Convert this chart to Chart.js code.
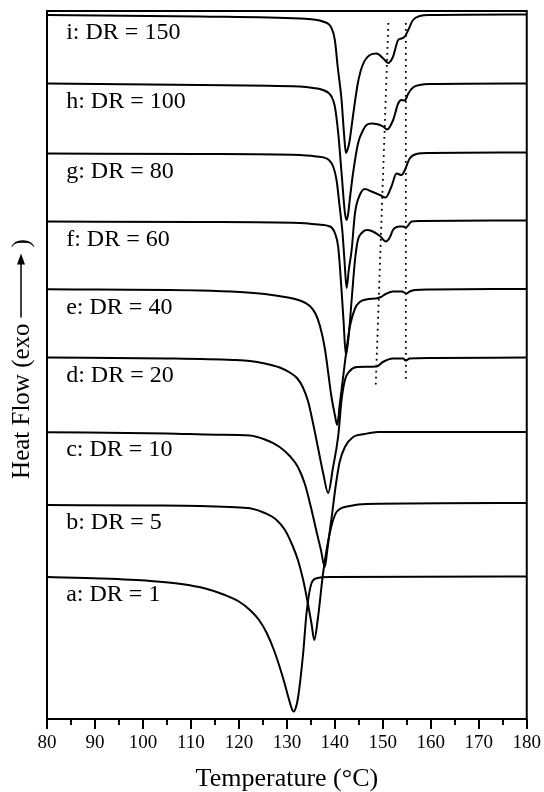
<!DOCTYPE html>
<html>
<head>
<meta charset="utf-8">
<title>DSC curves</title>
<script src="https://cdn.jsdelivr.net/npm/chart.js@4.4.1/dist/chart.umd.min.js"></script>
<style>
  html, body { margin: 0; padding: 0; background: #fff; }
  #wrap { width: 544px; height: 792px; }
</style>
</head>
<body>
<div id="wrap"><canvas id="chart"></canvas></div>
<script>
// temperature (C) / heat flow (a.u., curves stacked as in the figure)
var curveA = [[80,14.2],[91,14.05],[101.5,13.8],[108,13.5],[113,13.05],[117.1,12.4],[120,11.75],[122.3,10.9],[124.2,9.9],[125.8,8.6],[127.3,6.9],[128.5,5.2],[129.5,3.6],[130.3,2.2],[130.9,1.2],[131.4,0.75],[131.85,1.1],[132.35,2.2],[133.4,6.6],[134.1,10.6],[135.15,13.6],[136.2,14.07],[139,14.2],[180,14.25]];
var curveB = [[80,21.4],[101.5,21.35],[111.9,21.3],[118.1,21.2],[122.3,21.07],[125.4,20.6],[127.85,19.9],[129.6,18.9],[131.3,17.2],[132.3,15.9],[133.4,13.9],[134.4,11.5],[135.15,9.5],[135.7,7.9],[136.5,10.2],[137.55,14.6],[138.95,18.6],[140.35,20.7],[143.1,21.3],[146.6,21.5],[180,21.6]];
var curveC = [[80,28.68],[105,28.55],[115.3,28.42],[122.3,28.35],[125.4,27.95],[128.5,27.2],[130.6,26.3],[132.3,25.2],[133.75,23.5],[135,21.2],[136.25,18.6],[137.1,16.9],[137.9,15.2],[138.5,17.2],[139.4,20.4],[140.2,23.4],[141,25.7],[142.1,27.2],[143.8,28.2],[146.2,28.5],[149,28.7],[180,28.7]];
var curveD = [[80,36.15],[105,36.05],[118.75,35.9],[122.3,35.8],[125.4,35.55],[128.5,35.15],[130.6,34.65],[132.1,34.1],[133.3,33.2],[134.4,31.8],[135.4,29.7],[136.5,27.1],[137.6,24.5],[138.6,22.6],[139.6,25.1],[140.7,28.3],[141.4,31.9],[142.1,33.9],[143.1,34.8],[144.6,35.2],[148.75,35.25],[150,35.7],[152.1,36.05],[154.2,36.05],[154.8,35.85],[155.6,36.05],[159.8,36.1],[180,36.15]];
var curveE = [[80,42.97],[111.9,42.85],[120.2,42.7],[125.4,42.5],[129.6,42.2],[132.7,41.85],[134.8,41.3],[136,40.5],[136.9,39.3],[137.9,37.1],[139.3,32.2],[140,30.4],[140.5,29.4],[141,31.4],[141.9,34.9],[142.7,37.9],[143.1,39.2],[144.2,41.05],[145.2,41.7],[146.5,41.95],[149,42.1],[149.6,42.2],[150.6,42.5],[152.1,42.75],[154,42.75],[154.9,42.55],[155.6,42.75],[156.7,42.9],[159.8,42.95],[180,43]];
var curveF = [[80,49.75],[111.9,49.7],[132.7,49.6],[136.5,49.45],[139,49.25],[140,48.6],[140.7,47.2],[141.25,43.9],[141.8,39.9],[142.3,36.4],[142.9,38.4],[143.5,41.9],[144.2,45.9],[144.8,47.9],[145.6,48.6],[146.6,48.9],[147.7,48.8],[149.4,48.3],[150.6,47.75],[151.5,48.2],[152.1,48.9],[153.5,49.25],[154.2,49.25],[154.8,49.15],[156,49.75],[157.7,49.8],[180,49.85]];
var curveG = [[80,56.55],[111.9,56.5],[132.7,56.4],[136.2,56.25],[138.3,56.05],[139.65,55.25],[140.35,53.9],[141,51.25],[141.6,48.6],[142,45.9],[142.45,43.1],[142.9,44.9],[143.5,46.9],[144.2,50.6],[145.2,52.4],[146.25,53],[147.65,52.75],[149.4,52.4],[150.6,52.15],[151.8,53.25],[152.85,54.55],[153.9,54.4],[154.6,54.9],[155.6,56.05],[157,56.5],[159.8,56.6],[180,56.65]];
var curveH = [[80,63.55],[111.9,63.4],[132.7,63.25],[135.5,63.1],[137.5,62.9],[139.3,62.25],[140,61.25],[140.7,58.6],[141.4,54.6],[142.1,50.6],[142.45,49.9],[142.8,50.6],[143.1,51.9],[143.8,54.6],[144.85,57.6],[145.9,58.9],[146.6,59.4],[147.65,59.55],[148.7,59.5],[150.05,59.25],[150.9,58.95],[152.15,59.9],[153.2,61.55],[153.9,61.9],[154.6,61.85],[155.3,62.55],[156.3,63.15],[157.7,63.4],[159.8,63.5],[180,63.55]];
var curveI = [[80,70.4],[111.9,70.25],[132.7,70.05],[135.5,69.95],[137.5,69.75],[139.3,69.1],[140,67.9],[140.6,65.2],[141.4,61.9],[141.9,58.6],[142.3,56.6],[142.6,56.9],[143,57.6],[143.75,60.2],[144.8,63.6],[145.8,65.4],[147.3,66.4],[148.7,66.55],[150,66.1],[151.1,65.6],[152.1,66.2],[153.2,67.9],[153.9,68.05],[154.6,68.25],[155.3,68.9],[156.3,69.9],[157.7,70.3],[159.8,70.4],[180,70.45]];

// dotted guide lines through the small peaks
var guideLeft = [[151.15,69.6],[148.5,33.1]];
var guideRight = [[154.8,69.6],[154.8,33.7]];

var curveNames = ['a: DR = 1','b: DR = 5','c: DR = 10','d: DR = 20','e: DR = 40','f: DR = 60','g: DR = 80','h: DR = 100','i: DR = 150'];
var curves = [curveA, curveB, curveC, curveD, curveE, curveF, curveG, curveH, curveI];

var xTicks = [80, 90, 100, 110, 120, 130, 140, 150, 160, 170, 180];

var serif = '"Liberation Serif", "Times New Roman", serif';

function toPoints(arr) {
	return arr.map(function(p){ return {x: p[0], y: p[1]}; });
}

var datasets = curves.map(function(c, i){
	return {
		label: curveNames[i],
		data: toPoints(c),
		borderColor: '#000',
		borderWidth: 2,
		pointRadius: 0,
		fill: false,
		cubicInterpolationMode: 'monotone'
	};
});
[guideLeft, guideRight].forEach(function(g){
	datasets.push({
		label: 'guide',
		data: toPoints(g),
		borderColor: '#000',
		borderWidth: 1.8,
		borderDash: [1.8, 4.2],
		pointRadius: 0,
		fill: false,
		tension: 0
	});
});

// box round the plot + the small 5 degree ticks
var framePlugin = {
	id: 'frame',
	afterDraw: function(chart) {
		var ctx = chart.ctx, a = chart.chartArea, xs = chart.scales.x;
		ctx.save();
		ctx.strokeStyle = '#000';
		ctx.lineWidth = 2;
		ctx.strokeRect(a.left, a.top, a.right - a.left, a.bottom - a.top);
		ctx.beginPath();
		for (var v = 85; v < 180; v += 10) {
			var px = Math.round(xs.getPixelForValue(v));
			ctx.moveTo(px, a.bottom);
			ctx.lineTo(px, a.bottom + 6);
		}
		ctx.stroke();
		ctx.restore();
	}
};

var curveLabelPlugin = {
	id: 'curveLabels',
	afterDatasetsDraw: function(chart) {
		var ctx = chart.ctx, xs = chart.scales.x, ys = chart.scales.y;
		ctx.save();
		ctx.fillStyle = '#000';
		ctx.font = '24px ' + serif;
		ctx.textAlign = 'left';
		ctx.textBaseline = 'middle';
		curves.forEach(function(c, i){
			ctx.fillText(curveNames[i], xs.getPixelForValue(84), ys.getPixelForValue(c[0][1] - 1.8));
		});
		ctx.restore();
	}
};

// "Heat Flow (exo --->)" written up the left side
var yTitlePlugin = {
	id: 'yTitle',
	afterDraw: function(chart) {
		var ctx = chart.ctx, a = chart.chartArea;
		var part1 = 'Heat Flow (exo', part2 = ')';
		ctx.save();
		ctx.font = '25px ' + serif;
		ctx.fillStyle = '#000';
		ctx.strokeStyle = '#000';
		ctx.textBaseline = 'middle';
		ctx.textAlign = 'left';
		var w1 = ctx.measureText(part1).width, w2 = ctx.measureText(part2).width;
		var gap = 6, arrowLen = 64;
		var total = w1 + gap + arrowLen + gap + w2;
		ctx.translate(22, (a.top + a.bottom) / 2 - 6);
		ctx.rotate(-Math.PI / 2);
		var s = -total / 2;
		ctx.fillText(part1, s, 0);
		var ax0 = s + w1 + gap, ax1 = ax0 + arrowLen;
		ctx.lineWidth = 1.5;
		ctx.beginPath();
		ctx.moveTo(ax0, -1);
		ctx.lineTo(ax1 - 6, -1);
		ctx.stroke();
		ctx.beginPath();
		ctx.moveTo(ax1, -1);
		ctx.lineTo(ax1 - 11, -5);
		ctx.lineTo(ax1 - 11, 3);
		ctx.closePath();
		ctx.fill();
		ctx.fillText(part2, ax1 + gap, 0);
		ctx.restore();
	}
};

var chart = new Chart(document.getElementById('chart').getContext('2d'), {
	type: 'line',
	data: { datasets: datasets },
	options: {
		responsive: true,
		maintainAspectRatio: false,
		devicePixelRatio: 1,
		animation: false,
		layout: { padding: { left: 0, right: 17, top: 11, bottom: 0 } },
		plugins: {
			legend: { display: false },
			tooltip: { enabled: false }
		},
		scales: {
			x: {
				type: 'linear',
				min: 80,
				max: 180,
				afterFit: function(scale){ scale.height = 73; },
				afterBuildTicks: function(scale){
					scale.ticks = xTicks.map(function(v){ return {value: v}; });
				},
				ticks: {
					color: '#000',
					font: { family: serif, size: 19 },
					padding: 3,
					maxRotation: 0,
					autoSkip: false
				},
				grid: {
					display: true,
					drawOnChartArea: false,
					drawTicks: true,
					tickLength: 10,
					lineWidth: 2,
					color: '#000'
				},
				border: { display: false },
				title: {
					display: true,
					text: 'Temperature (°C)',
					color: '#000',
					font: { family: serif, size: 26, lineHeight: 1 },
					padding: { top: 0, bottom: 0 }
				}
			},
			y: {
				type: 'linear',
				min: 0,
				max: 70.8,
				afterFit: function(scale){ scale.width = 47; },
				ticks: { display: false },
				grid: { display: false },
				border: { display: false }
			}
		}
	},
	plugins: [framePlugin, curveLabelPlugin, yTitlePlugin]
});
</script>
</body>
</html>
